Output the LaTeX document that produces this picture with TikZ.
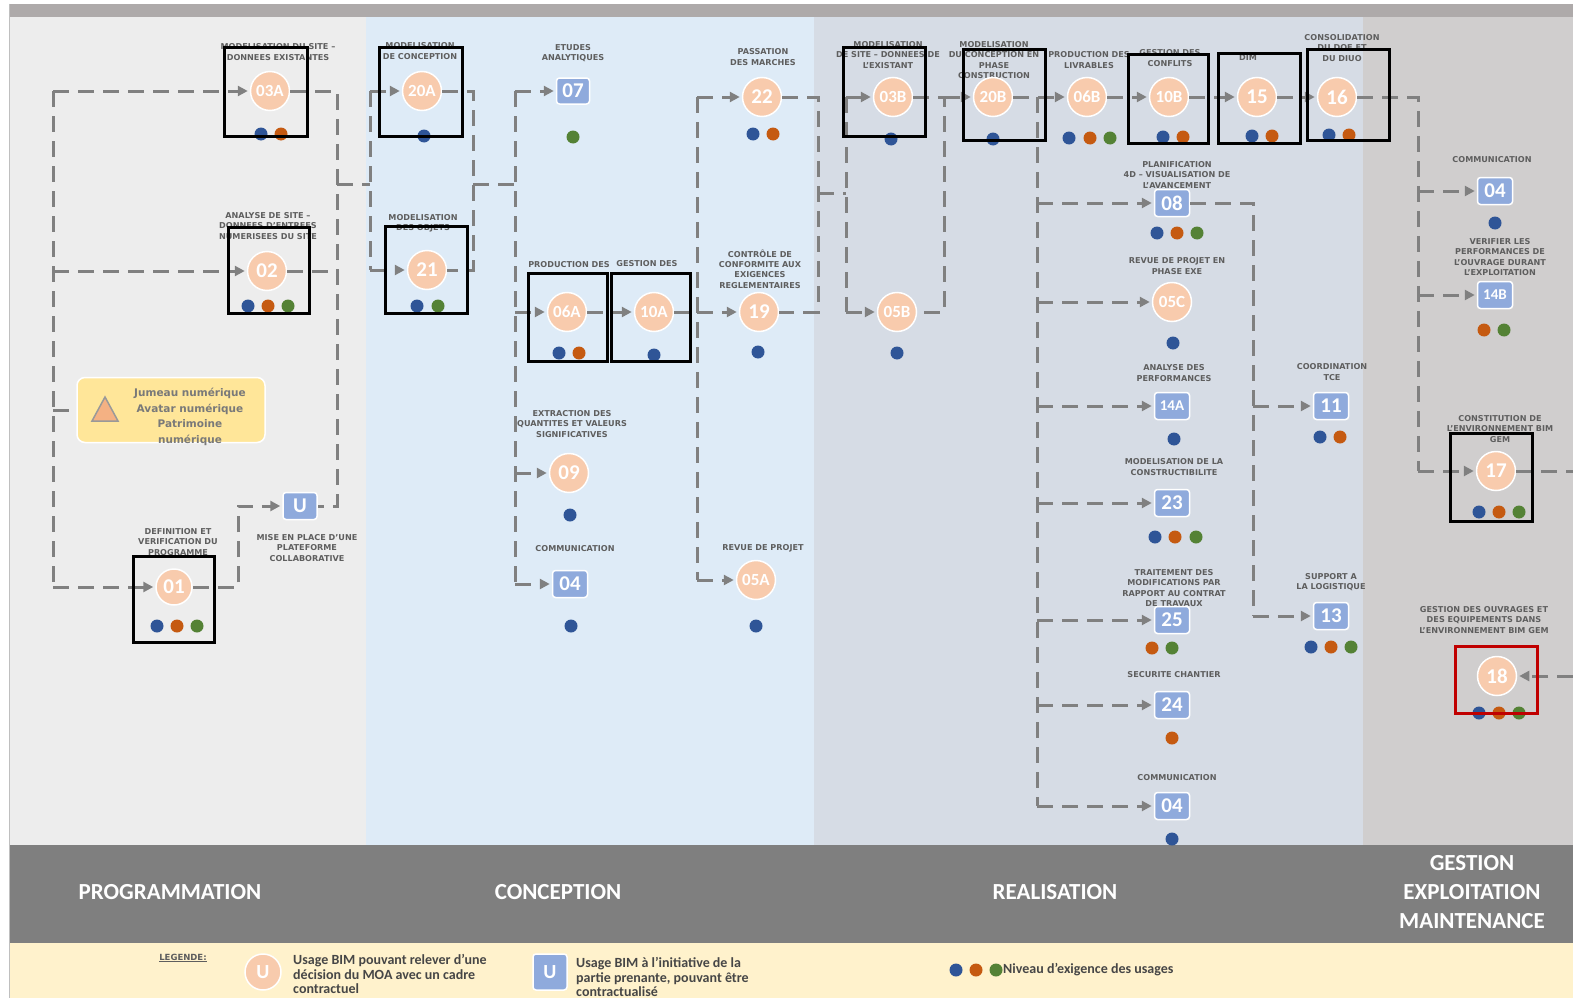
\documentclass[tikz,border=0pt]{standalone}
\usepackage{fontspec}
\usetikzlibrary{arrows.meta}
\newfontfamily\dvs{DejaVu Sans}
\newfontfamily\crl{Carlito}
\definecolor{progbg}{HTML}{EDEDED}
\definecolor{concbg}{HTML}{DEEBF7}
\definecolor{realbg}{HTML}{D6DCE5}
\definecolor{gembg}{HTML}{D0CECE}
\definecolor{topbar}{HTML}{AEAAAA}
\definecolor{bandgray}{HTML}{7F7F7F}
\definecolor{legbg}{HTML}{FFF2CC}
\definecolor{circfill}{HTML}{F8CBAD}
\definecolor{sqfill}{HTML}{8FAADC}
\definecolor{jumfill}{HTML}{FFE699}
\definecolor{trifill}{HTML}{F4B183}
\definecolor{conngray}{HTML}{808080}
\definecolor{labgray}{HTML}{5E5E5E}
\definecolor{legtxt}{HTML}{464646}
\definecolor{dblue}{HTML}{2F5597}
\definecolor{dorange}{HTML}{C55A11}
\definecolor{dgreen}{HTML}{548235}
\definecolor{hlred}{HTML}{C00000}
\newcommand\lvdot[3]{\fill[#1] (#2,#3) circle[radius=6.5];}
\tikzset{
  conn/.style={draw=conngray, line width=3pt, dash pattern=on 16pt off 9pt},
  arr/.style={conn, -{Triangle[length=10pt,width=10pt]}, shorten >=2pt},
  usecirc/.style={circle, fill=circfill, draw=white, line width=1.5pt, minimum size=39pt,
    inner sep=0pt, text=white, font=\crl\bfseries\fontsize{21}{21}\selectfont},
  usecircs/.style={usecirc, font=\crl\bfseries\fontsize{17}{17}\selectfont},
  usesq/.style={rectangle, rounded corners=3pt, fill=sqfill, draw=white, line width=1.5pt,
    minimum width=35pt, minimum height=27pt, inner sep=0pt, text=white,
    font=\crl\bfseries\fontsize{21}{21}\selectfont},
  usesqs/.style={usesq, font=\crl\bfseries\fontsize{15}{15}\selectfont},
  lab/.style={align=center, inner sep=0pt, text=labgray, font=\dvs\bfseries\fontsize{8.1}{10.3}\selectfont},
  hl/.style={draw=black, line width=3pt},
  hlr/.style={draw=hlred, line width=3pt},
  phase/.style={text=white, align=center, inner sep=0pt, font=\crl\bfseries\fontsize{23}{29}\selectfont},
  legtext/.style={text=legtxt, align=left, inner sep=0pt, anchor=west, font=\crl\bfseries\fontsize{14}{14.5}\selectfont},
  dB/.style={fill=dblue}, dO/.style={fill=dorange}, dG/.style={fill=dgreen}
}
\begin{document}
\begin{tikzpicture}[x=1pt,y=-1pt]
\useasboundingbox (0,0) rectangle (1573,998);
% backgrounds
\fill[white] (0,0) rectangle (1573,998);
\fill[topbar] (9,4) rectangle (1573,17);
\fill[progbg] (9,17) rectangle (366,845);
\fill[concbg] (366,17) rectangle (814,845);
\fill[realbg] (814,17) rectangle (1363,845);
\fill[gembg] (1363,17) rectangle (1573,845);
\fill[bandgray] (9,845) rectangle (1573,943);
\fill[legbg] (9,943) rectangle (1573,998);
\draw[gray!50, line width=0.8pt] (9,4) -- (9,998);

% phase labels
\node[phase] (pProg) at (170,892) {PROGRAMMATION};
\node[phase] (pConc) at (558,892) {CONCEPTION};
\node[phase] (pReal) at (1055,892) {REALISATION};
\node[phase] (pGem) at (1472,892) {GESTION\\EXPLOITATION\\MAINTENANCE};

% labels
\node[lab] (t03A) at (278,52) {MODELISATION DU SITE –\\DONNEES EXISTANTES};
\node[lab] (t02) at (268,226) {ANALYSE DE SITE –\\DONNEES D’ENTREES\\NUMERISEES DU SITE};
\node[lab] (t01) at (178,542) {DEFINITION ET\\VERIFICATION DU\\PROGRAMME};
\node[lab] (tU) at (307,548) {MISE EN PLACE D’UNE\\PLATEFORME\\COLLABORATIVE};
\node[lab] (t20A) at (420,51) {MODELISATION\\DE CONCEPTION};
\node[lab] (t21) at (423,223) {MODELISATION\\DES OBJETS};
\node[lab] (t07) at (573,53) {ETUDES\\ANALYTIQUES};
\node[lab] (t06A) at (569,265) {PRODUCTION DES};
\node[lab] (t10A) at (647,264) {GESTION DES};
\node[lab] (t22) at (763,57) {PASSATION\\DES MARCHES};
\node[lab] (t19) at (760,269) {CONTRÔLE DE\\CONFORMITE AUX\\EXIGENCES\\REGLEMENTAIRES};
\node[lab] (t09) at (572,424) {EXTRACTION DES\\QUANTITES ET VALEURS\\SIGNIFICATIVES};
\node[lab] (t04a) at (575,549) {COMMUNICATION};
\node[lab] (t05A) at (763,548) {REVUE DE PROJET};
\node[lab] (t03B) at (888,55) {MODELISATION\\DE SITE – DONNEES DE\\L’EXISTANT};
\node[lab] (t20B) at (994,60) {MODELISATION\\DU CONCEPTION EN\\PHASE\\CONSTRUCTION};
\node[lab] (t06B) at (1089,60) {PRODUCTION DES\\LIVRABLES};
\node[lab] (t10B) at (1170,58) {GESTION DES\\CONFLITS};
\node[lab] (t15) at (1248,58) {DIM};
\node[lab] (t16) at (1342,48) {CONSOLIDATION\\DU DOE ET\\DU DIUO};
\node[lab] (t08) at (1177,175) {PLANIFICATION\\4D – VISUALISATION DE\\L’AVANCEMENT};
\node[lab] (t05C) at (1177,266) {REVUE DE PROJET EN\\PHASE EXE};
\node[lab] (t14A) at (1174,373) {ANALYSE DES\\PERFORMANCES};
\node[lab] (t23) at (1174,467) {MODELISATION DE LA\\CONSTRUCTIBILITE};
\node[lab] (t25) at (1174,588) {TRAITEMENT DES\\MODIFICATIONS PAR\\RAPPORT AU CONTRAT\\DE TRAVAUX};
\node[lab] (t24) at (1174,675) {SECURITE CHANTIER};
\node[lab] (t04b) at (1177,778) {COMMUNICATION};
\node[lab] (t11) at (1332,372) {COORDINATION\\TCE};
\node[lab] (t13) at (1331,582) {SUPPORT A\\LA LOGISTIQUE};
\node[lab] (t04c) at (1492,160) {COMMUNICATION};
\node[lab] (t14B) at (1500,257) {VERIFIER LES\\PERFORMANCES DE\\L’OUVRAGE DURANT\\L’EXPLOITATION};
\node[lab] (t17) at (1500,429) {CONSTITUTION DE\\L’ENVIRONNEMENT BIM\\GEM};
\node[lab] (t18) at (1484,620) {GESTION DES OUVRAGES ET\\DES EQUIPEMENTS DANS\\L’ENVIRONNEMENT BIM GEM};

% jumeau box
\node[draw=white, line width=1.5pt, fill=jumfill, rounded corners=8pt, minimum width=188pt,
  minimum height=65pt, inner sep=0pt] (jum) at (171,410) {};
\filldraw[fill=trifill, draw=gray!80, line width=1.5pt] (92,421) -- (105,397) -- (118,421) -- cycle;
\node[align=center, inner sep=0pt, text=gray!95!black, font=\dvs\bfseries\fontsize{10.5}{15.7}\selectfont]
  (jumt) at (190,417) {Jumeau numérique\\Avatar numérique\\Patrimoine\\numérique};

% usage nodes
\node[usecircs] (u03A) at (270,91) {03A};
\node[usecirc] (u02) at (267,271) {02};
\node[usecirc, minimum size=36pt] (u01) at (174,587) {01};
\node[usesq, minimum width=34pt, minimum height=27pt] (uU) at (300,506) {U};
\node[usecircs] (u20A) at (422,91) {20A};
\node[usecirc] (u21) at (427,270) {21};
\node[usesq, minimum width=33pt, minimum height=26pt] (u07) at (573,91) {07};
\node[usecircs] (u06A) at (567,312) {06A};
\node[usecircs] (u10A) at (654,312) {10A};
\node[usecirc] (u09) at (569,473) {09};
\node[usesq] (u04a) at (570,584) {04};
\node[usecirc] (u22) at (762,97) {22};
\node[usecirc] (u19) at (759,312) {19};
\node[usecircs] (u05A) at (756,580) {05A};
\node[usecircs] (u03B) at (893,97) {03B};
\node[usecircs] (u05B) at (897,312) {05B};
\node[usecircs] (u20B) at (993,97) {20B};
\node[usecircs] (u06B) at (1087,97) {06B};
\node[usecircs] (u10B) at (1169,97) {10B};
\node[usecirc] (u15) at (1257,97) {15};
\node[usecirc] (u16) at (1337,97) {16};
\node[usesq] (u08) at (1172,203) {08};
\node[usecircs] (u05C) at (1172,302) {05C};
\node[usesqs] (u14A) at (1172,406) {14A};
\node[usesq] (u23) at (1172,503) {23};
\node[usesq] (u25) at (1172,620) {25};
\node[usesq] (u24) at (1172,705) {24};
\node[usesq] (u04b) at (1172,806) {04};
\node[usesq] (u11) at (1331,406) {11};
\node[usesq] (u13) at (1331,616) {13};
\node[usesq] (u04c) at (1495,191) {04};
\node[usesqs] (u14B) at (1495,295) {14B};
\node[usecirc] (u17) at (1496,471) {17};
\node[usecirc] (u18) at (1497,676) {18};

% bus coordinates
\coordinate (a1) at (53,91); \coordinate (a2) at (53,271);
\coordinate (aj) at (53,410); \coordinate (a3) at (53,587);
\coordinate (b1) at (238,587);
\coordinate (c1) at (337,91); \coordinate (c2) at (337,271);
\coordinate (c3) at (337,184); \coordinate (c4) at (337,506);
\coordinate (d1) at (370,91); \coordinate (d2) at (370,270); \coordinate (d3) at (370,184);
\coordinate (e1) at (473,91); \coordinate (e2) at (473,270); \coordinate (e3) at (473,184);
\coordinate (f1) at (515,91); \coordinate (f3) at (515,184); \coordinate (f2) at (515,312);
\coordinate (f4) at (515,473); \coordinate (f5) at (515,584);
\coordinate (g1) at (697,97); \coordinate (g2) at (697,312); \coordinate (g3) at (697,580);
\coordinate (h1) at (818,97); \coordinate (h3) at (818,193); \coordinate (h2) at (818,312);
\coordinate (i1) at (846,97); \coordinate (i3) at (846,193); \coordinate (i2) at (846,312);
\coordinate (j1) at (944,97); \coordinate (j2) at (944,312);
\coordinate (k1) at (1037,97); \coordinate (k2) at (1037,203); \coordinate (k3) at (1037,302);
\coordinate (k4) at (1037,406); \coordinate (k5) at (1037,503); \coordinate (k6) at (1037,620);
\coordinate (k7) at (1037,705); \coordinate (k8) at (1037,806);
\coordinate (l1) at (1253,203); \coordinate (l2) at (1253,406); \coordinate (l3) at (1253,616);
\coordinate (m1) at (1418,97); \coordinate (m2) at (1418,191); \coordinate (m3) at (1418,295);
\coordinate (m4) at (1418,471);
\coordinate (o1) at (1573,471); \coordinate (o2) at (1573,676);

% connectors
\draw[conn] (a1) -- (a3);
\draw[arr] (a1) -- (u03A);
\draw[arr] (a2) -- (u02);
\draw[arr] (a3) -- (u01);
\draw[conn] (aj) -- (jum);
\draw[arr] (u01) -- (b1) |- (uU);
\draw[conn] (u03A) -- (c1) -- (c4) -- (uU);
\draw[conn] (u02) -- (c2);
\draw[conn] (c3) -- (d3);
\draw[conn] (d1) -- (d2);
\draw[arr] (d1) -- (u20A);
\draw[arr] (d2) -- (u21);
\draw[conn] (u20A) -- (e1) -- (e2) -- (u21);
\draw[conn] (e3) -- (f3);
\draw[conn] (f1) -- (f5);
\draw[arr] (f1) -- (u07);
\draw[arr] (f2) -- (u06A);
\draw[arr] (f4) -- (u09);
\draw[arr] (f5) -- (u04a);
\draw[arr] (u06A) -- (u10A);
\draw[conn] (u10A) -- (g2);
\draw[conn] (g1) -- (g3);
\draw[arr] (g1) -- (u22);
\draw[arr] (g2) -- (u19);
\draw[arr] (g3) -- (u05A);
\draw[conn] (u22) -- (h1) -- (h2) -- (u19);
\draw[conn] (h3) -- (i3);
\draw[conn] (i1) -- (i2);
\draw[arr] (i1) -- (u03B);
\draw[arr] (i2) -- (u05B);
\draw[conn] (u03B) -- (j1) -- (j2) -- (u05B);
\draw[arr] (j1) -- (u20B);
\draw[arr] (u20B) -- (u06B);
\draw[conn] (k1) -- (k8);
\draw[arr] (k2) -- (u08);
\draw[arr] (k3) -- (u05C);
\draw[arr] (k4) -- (u14A);
\draw[arr] (k5) -- (u23);
\draw[arr] (k6) -- (u25);
\draw[arr] (k7) -- (u24);
\draw[arr] (k8) -- (u04b);
\draw[arr] (u06B) -- (u10B);
\draw[arr] (u10B) -- (u15);
\draw[arr] (u15) -- (u16);
\draw[conn] (u08) -- (l1) -- (l3);
\draw[arr] (l2) -- (u11);
\draw[arr] (l3) -- (u13);
\draw[conn] (u16) -- (m1) -- (m4);
\draw[arr] (m2) -- (u04c);
\draw[arr] (m3) -- (u14B);
\draw[arr] (m4) -- (u17);
\draw[conn] (u17) -- (o1);
\draw[arr] (o2) -- (u18);

% level dots
\lvdot{dB}{261}{134}\lvdot{dO}{281}{134}
\lvdot{dB}{248}{306}\lvdot{dO}{268}{306}\lvdot{dG}{288}{306}
\lvdot{dB}{157}{626}\lvdot{dO}{177}{626}\lvdot{dG}{197}{626}
\lvdot{dB}{424}{136}
\lvdot{dB}{417}{306}\lvdot{dG}{438}{306}
\lvdot{dG}{573}{137}
\lvdot{dB}{559}{353}\lvdot{dO}{579}{353}
\lvdot{dB}{654}{355}
\lvdot{dB}{753}{134}\lvdot{dO}{773}{134}
\lvdot{dB}{758}{352}
\lvdot{dB}{570}{515}
\lvdot{dB}{571}{626}
\lvdot{dB}{756}{626}
\lvdot{dB}{891}{139}
\lvdot{dB}{897}{353}
\lvdot{dB}{993}{139}
\lvdot{dB}{1069}{138}\lvdot{dO}{1090}{138}\lvdot{dG}{1110}{138}
\lvdot{dB}{1163}{137}\lvdot{dO}{1183}{137}
\lvdot{dB}{1252}{136}\lvdot{dO}{1272}{136}
\lvdot{dB}{1329}{135}\lvdot{dO}{1349}{135}
\lvdot{dB}{1157}{233}\lvdot{dO}{1177}{233}\lvdot{dG}{1197}{233}
\lvdot{dB}{1173}{343}
\lvdot{dB}{1174}{439}
\lvdot{dB}{1155}{537}\lvdot{dO}{1175}{537}\lvdot{dG}{1196}{537}
\lvdot{dO}{1152}{648}\lvdot{dG}{1172}{648}
\lvdot{dO}{1172}{738}
\lvdot{dB}{1172}{839}
\lvdot{dB}{1320}{437}\lvdot{dO}{1340}{437}
\lvdot{dB}{1311}{647}\lvdot{dO}{1331}{647}\lvdot{dG}{1351}{647}
\lvdot{dB}{1495}{223}
\lvdot{dO}{1484}{330}\lvdot{dG}{1504}{330}
\lvdot{dB}{1479}{512}\lvdot{dO}{1499}{512}\lvdot{dG}{1519}{512}
\lvdot{dB}{1479}{713}\lvdot{dO}{1499}{713}\lvdot{dG}{1519}{713}

% highlight boxes
\draw[hl] (224,48) rectangle (307,136);
\draw[hl] (228,227) rectangle (309,313);
\draw[hl] (133,556) rectangle (214,642);
\draw[hl] (379,48) rectangle (462,136);
\draw[hl] (385,226) rectangle (467,313);
\draw[hl] (528,273) rectangle (607.5,361);
\draw[hl] (611,273) rectangle (690,361);
\draw[hl] (843,48) rectangle (925,136);
\draw[hl] (963,50) rectangle (1045,140);
\draw[hl] (1128,55) rectangle (1208,143);
\draw[hl] (1218,54) rectangle (1300,143);
\draw[hl] (1307,50) rectangle (1389,140);
\draw[hl] (1450,433) rectangle (1532,521);
\draw[hlr] (1455,646) rectangle (1537,713);

% legend
\node[lab, font=\dvs\bfseries\fontsize{8.5}{10}\selectfont] (legT) at (183,958) {\underline{LEGENDE:}};
\node[usecirc, minimum size=36pt, font=\crl\bfseries\fontsize{20}{20}\selectfont] (legC) at (263,972) {U};
\node[legtext] (legCt) at (293,974) {Usage BIM pouvant relever d’une\\décision du MOA avec un cadre\\contractuel};
\node[usesq, minimum width=34pt, minimum height=36pt, font=\crl\bfseries\fontsize{20}{20}\selectfont] (legS) at (550,972) {U};
\node[legtext] (legSt) at (576,977) {Usage BIM à l’initiative de la\\partie prenante, pouvant être\\contractualisé};
\lvdot{dB}{956}{970}\lvdot{dO}{976}{970}\lvdot{dG}{996}{970}
\node[legtext] (legDt) at (1003,970) {Niveau d’exigence des usages};
\end{tikzpicture}
\end{document}
